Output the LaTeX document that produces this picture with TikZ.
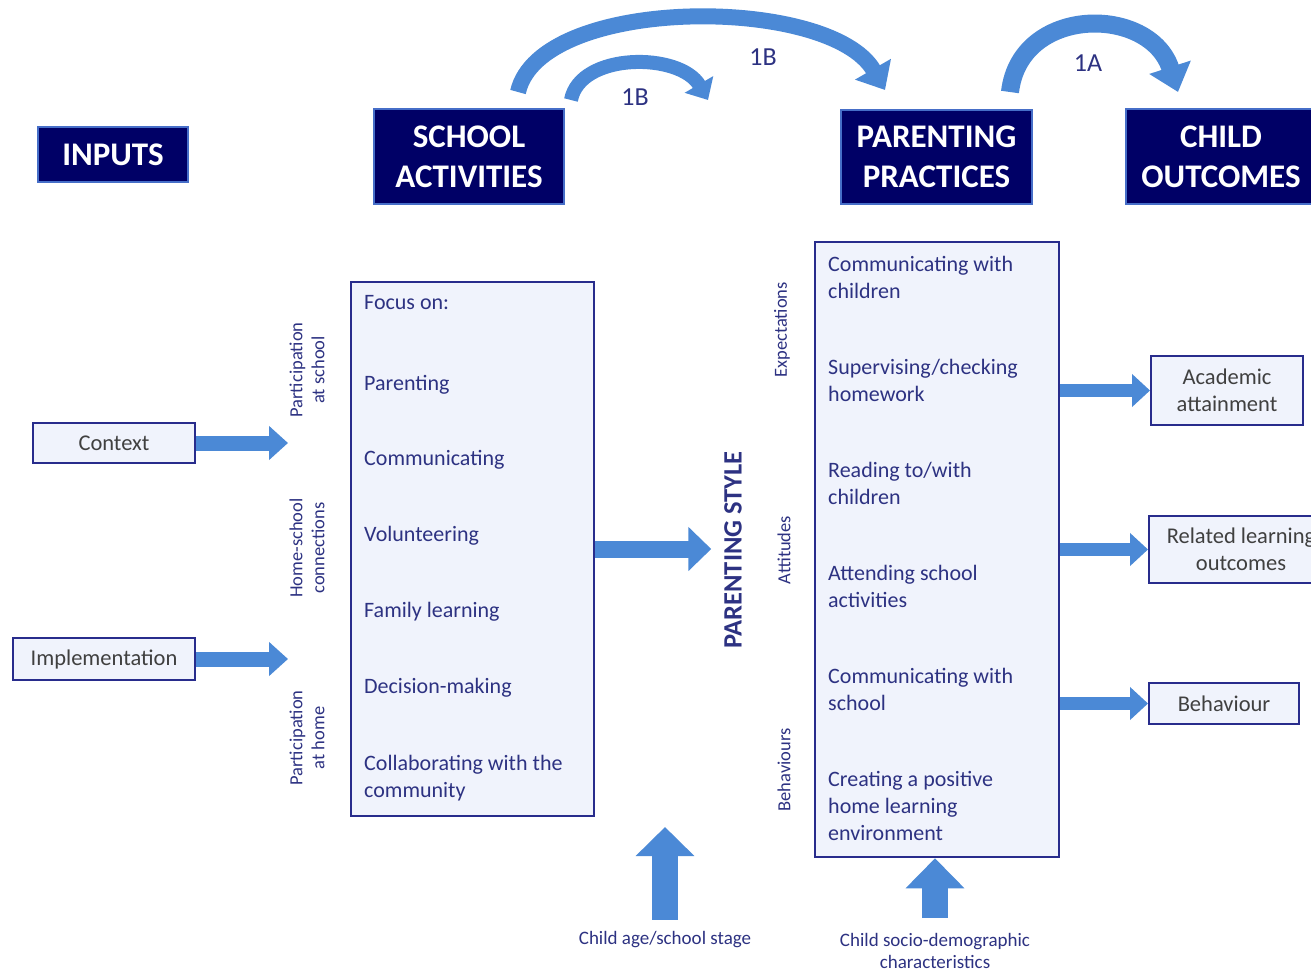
\documentclass[tikz,border=0pt]{standalone}
\usepackage{fontspec}
\setmainfont{Carlito}
\usetikzlibrary{arrows.meta}
\definecolor{navyfill}{RGB}{0,0,102}
\definecolor{hdrborder}{RGB}{70,110,200}
\definecolor{boxborder}{RGB}{40,44,140}
\definecolor{boxfill}{RGB}{240,243,252}
\definecolor{boxtext}{RGB}{45,50,130}
\definecolor{graytext}{RGB}{64,64,64}
\definecolor{arrowblue}{RGB}{75,137,214}
\begin{document}
\begin{tikzpicture}[x=1pt,y=-1pt,
  hdr/.style={fill=navyfill, draw=hdrborder, line width=1.5pt, text=white,
    font=\fontsize{33}{40}\selectfont\bfseries, align=center, inner sep=0pt},
  bigbox/.style={fill=boxfill, draw=boxborder, line width=2.5pt, inner sep=0pt},
  item/.style={anchor=west, text=boxtext, font=\fontsize{22}{27}\selectfont, align=left, inner sep=0pt},
  smallbox/.style={fill=boxfill, draw=boxborder, line width=2pt, text=graytext,
    font=\fontsize{22.5}{27}\selectfont, align=center, inner sep=0pt},
  rotlab/.style={rotate=90, text=boxtext, font=\fontsize{18.5}{22}\selectfont, align=center, inner sep=0pt},
  botlab/.style={text=boxtext, font=\fontsize{19}{22}\selectfont, align=center, inner sep=0pt},
  arclab/.style={text=boxtext, font=\fontsize{26}{28}\selectfont, inner sep=0pt},
  flow/.style={draw=arrowblue, line cap=butt}
]
\useasboundingbox (0,0) rectangle (1311,974);
\fill[white] (0,0) rectangle (1311,974);

% headers
\node[hdr, minimum width=150pt, minimum height=55pt] (inputs) at (113,154.5) {INPUTS};
\node[hdr, minimum width=190pt, minimum height=95pt] (school) at (469,156.5) {SCHOOL\\ACTIVITIES};
\node[hdr, minimum width=191pt, minimum height=94pt] (practices) at (936.5,157) {PARENTING\\PRACTICES};
\node[hdr, minimum width=190pt, minimum height=95pt] (child) at (1221,156.5) {CHILD\\OUTCOMES};

% main boxes
\node[bigbox, minimum width=243pt, minimum height=534pt] (focus) at (472.5,549) {};
\node[bigbox, minimum width=244pt, minimum height=615pt] (ppbox) at (937,549.5) {};

\node[item] (f0) at (364,303) {Focus on:};
\node[item] (f1) at (364,385) {Parenting};
\node[item] (f2) at (364,460) {Communicating};
\node[item] (f3) at (364,536) {Volunteering};
\node[item] (f4) at (364,612) {Family learning};
\node[item] (f5) at (364,688) {Decision-making};
\node[item] (f6) at (364,778.5) {Collaborating with the\\community};

\node[item] (p1) at (828,277.5) {Communicating with\\children};
\node[item] (p2) at (828,380.5) {Supervising/checking\\homework};
\node[item] (p3) at (828,483) {Reading to/with\\children};
\node[item] (p4) at (828,586.5) {Attending school\\activities};
\node[item] (p5) at (828,689.5) {Communicating with\\school};
\node[item] (p6) at (828,805.5) {Creating a positive\\home learning\\environment};

% inputs
\node[smallbox, minimum width=162pt, minimum height=40pt] (ctx) at (114,443) {Context};
\node[smallbox, minimum width=182pt, minimum height=42pt] (impl) at (104,659) {Implementation};

% outcomes
\node[smallbox, minimum width=152pt, minimum height=69pt] (acad) at (1227,390.5) {Academic\\attainment};
\node[smallbox, minimum width=184pt, minimum height=67pt] (rel) at (1241,549.5) {Related learning\\outcomes};
\node[smallbox, minimum width=150pt, minimum height=41pt] (beh) at (1224,703.5) {Behaviour};

% rotated labels
\node[rotlab] (ps1) at (307,370) {Participation\\at school};
\node[rotlab] (ps2) at (307,548) {Home-school\\connections};
\node[rotlab] (ps3) at (307,738) {Participation\\at home};
\node[rotlab] (ex) at (782,330) {Expectations};
\node[rotlab] (att) at (784,550) {Attitudes};
\node[rotlab] (bhv) at (784,770) {Behaviours};
\node[rotate=90, text=boxtext, font=\fontsize{26.5}{30}\selectfont\bfseries, inner sep=0pt] (style) at (733,550) {PARENTING STYLE};

% bottom labels
\node[botlab] (cage) at (665,940) {Child age/school stage};
\node[botlab] (csoc) at (935,951) {Child socio-demographic\\characteristics};

% arc labels
\node[arclab] (l1) at (635,97) {1B};
\node[arclab] (l2) at (763,57) {1B};
\node[arclab] (l3) at (1088,63) {1A};

% straight arrows
\draw[flow, line width=15pt, -{Triangle[width=33pt,length=19pt]}] (ctx.east) -- ++(92,0);
\draw[flow, line width=15pt, -{Triangle[width=33pt,length=19pt]}] (impl.east) -- ++(92,0);
\draw[flow, line width=17pt, -{Triangle[width=43pt,length=23pt]}] (focus.east) -- ++(116,0);
\draw[flow, line width=13pt, -{Triangle[width=32pt,length=18pt]}] (ppbox.east |- acad) -- (acad.west);
\draw[flow, line width=13pt, -{Triangle[width=32pt,length=18pt]}] (ppbox.east |- rel) -- (rel.west);
\draw[flow, line width=13pt, -{Triangle[width=32pt,length=18pt]}] (ppbox.east |- beh) -- (beh.west);
\draw[flow, line width=26pt, -{Triangle[width=57pt,length=29pt]}] ([yshift=12pt]cage.north) -- (665,827);
\coordinate (csocTop) at (935,918);
\draw[flow, line width=26pt, -{Triangle[width=57pt,length=30pt]}] (csocTop) -- (ppbox.south -| csocTop);

% curved arrows
\coordinate (a1s) at (518,92);
\coordinate (a1e) at (885,90);
\coordinate (a2s) at (571,100);
\coordinate (a2e) at (708,100);
\coordinate (a3s) at (1010,92);
\coordinate (a3e) at (1178,92);
\draw[flow, line width=16pt, -{Triangle[width=40pt,length=24pt]}] (a1s) .. controls (540,-5) and (830,-5) .. (a1e);
\draw[flow, line width=14pt, -{Triangle[width=32pt,length=18pt]}] (a2s) .. controls (580,52) and (680,52) .. (a2e);
\draw[flow, line width=18pt, -{Triangle[width=42pt,length=26pt]}] (a3s) .. controls (1020,5) and (1150,5) .. (a3e);
\end{tikzpicture}
\end{document}
